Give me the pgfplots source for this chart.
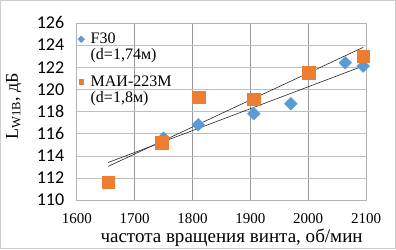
\documentclass[border=0pt]{standalone}
\usepackage{fontspec}
\setmainfont{Liberation Serif}
\newfontfamily\calib{Carlito}
\usepackage{pgfplots}
\pgfplotsset{compat=1.18}
\definecolor{cblue}{HTML}{5B9BD5}
\definecolor{corange}{HTML}{ED7D31}
\begin{document}
\begin{tikzpicture}
\begin{axis}[
 scale only axis, width=289pt, height=177pt,
 xmin=1600, xmax=2100, ymin=110, ymax=126,
 xtick={1600,1700,...,2100}, ytick={110,112,...,126},
 /pgf/number format/1000 sep={},
 /pgf/number format/assume math mode=true,
 clip=false,
 grid=major,
 x grid style={gray!80, line width=0.6pt},
 y grid style={gray!50, line width=0.6pt},
 axis line style={gray!60, line width=0.6pt},
 tick style={draw=none},
 xticklabel style={font=\fontsize{15}{15}\selectfont, yshift=-12pt, inner sep=1pt},
 yticklabel style={font=\calib\fontsize{18}{18}\selectfont, xshift=-9pt},
 xlabel={частота вращения винта, об/мин},
 xlabel style={font=\fontsize{19}{19}\selectfont, at={(axis description cs:0.535,-0.215)}, anchor=center, inner sep=1pt},
 ylabel={L\textsubscript{W1В}, дБ},
 ylabel style={font=\fontsize{18}{18}\selectfont, at={(axis description cs:-0.218,0.531)}, anchor=center},
 legend style={at={(axis description cs:0.003,0.955)}, anchor=north west, draw=none, fill=none,
   font=\fontsize{16}{15.5}\selectfont, row sep=26pt, column sep=4pt, inner sep=0pt},
 legend cell align=left,
 legend image code/.code={\draw[mark repeat=2,mark phase=2,#1,mark size=2.4pt] plot coordinates {(0pt,0pt)(3pt,0pt)(6pt,0pt)};},
]
\addplot[only marks, mark=square*, mark size=4.5pt, mark options={rotate=45, fill=cblue, draw=cblue}]
 coordinates {(1750,115.6) (1810,116.8) (1906,117.8) (1970,118.7) (2064,122.4) (2095,122.1)};
\addlegendentry{\begin{tabular}[t]{@{}l@{}}F30\\(d=1,74м)\end{tabular}}
\addplot[only marks, mark=square*, mark size=6.2pt, mark options={fill=corange, draw=corange}]
 coordinates {(1654,111.6) (1747,115.2) (1811,119.3) (1906,119.1) (2001,121.5) (2095,123.0)};
\addlegendentry{\begin{tabular}[t]{@{}l@{}}МАИ-223М\\(d=1,8м)\end{tabular}}
\addplot[black!85, line width=0.6pt, forget plot] coordinates {(1654,113.04) (2095,123.79)};
\addplot[black!85, line width=0.6pt, forget plot] coordinates {(1654,113.39) (2095,122.11)};
\draw[gray!40, line width=0.8pt] (rel axis cs:-0.264,-0.274) rectangle (rel axis cs:1.102,1.127);
\end{axis}
\end{tikzpicture}
\end{document}
